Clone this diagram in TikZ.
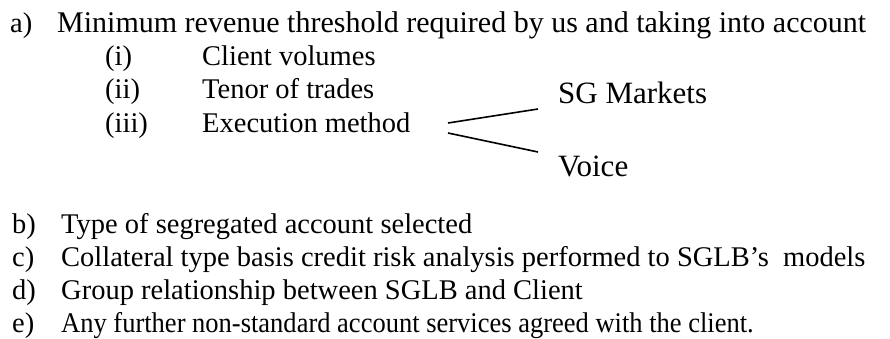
\documentclass[tikz,border=0pt]{standalone}
\usepackage{fontspec}
\setmainfont{Liberation Serif}
\begin{document}
\begin{tikzpicture}[x=1pt,y=1pt,
  txt/.style={anchor=base west,inner sep=0pt,font=\fontsize{28.5}{33}\selectfont},
  lead/.style={anchor=base west,inner sep=0pt,font=\fontsize{30}{35}\selectfont},
  big/.style={anchor=base west,inner sep=0pt,font=\fontsize{31}{36}\selectfont},
  fork/.style={line width=1.6pt}]
\useasboundingbox (0,0) rectangle (890,-338);
% item a) with its sub-items
\node[txt] (la) at (10,-32) {a)};
\node[lead] (ta) at (57,-32) {Minimum revenue threshold required by us and taking into account};
\node[txt] (li) at (105,-65) {(i)};
\node[txt] (ti) at (202,-65) {Client volumes};
\node[txt] (lii) at (105,-98) {(ii)};
\node[txt] (tii) at (202,-98) {Tenor of trades};
\node[txt] (liii) at (105,-132) {(iii)};
\node[txt] (tiii) at (202,-132) {Execution method};
% the two execution channels
\node[big] (sg) at (558,-103) {SG Markets};
\node[big] (voice) at (558,-176) {Voice};
\coordinate (f1) at (448,-123);
\coordinate (g1) at (538,-109);
\coordinate (f2) at (448,-133);
\coordinate (g2) at (538,-152);
\draw[fork] (f1) -- (g1);
\draw[fork] (f2) -- (g2);
% items b) to e)
\node[txt] (lb) at (12,-233) {b)};
\node[txt] (tb) at (61,-233) {Type of segregated account selected};
\node[txt] (lc) at (12,-266) {c)};
\node[txt] (tc) at (61,-266) {Collateral type basis credit risk analysis performed to SGLB’s\ \ models};
\node[txt] (ld) at (12,-299) {d)};
\node[txt] (td) at (61,-299) {Group relationship between SGLB and Client};
\node[txt] (le) at (12,-332) {e)};
\node[txt] (te) at (61,-332) {\scalebox{0.93}[1]{Any further non-standard account services agreed with the client.}};
\end{tikzpicture}
\end{document}
